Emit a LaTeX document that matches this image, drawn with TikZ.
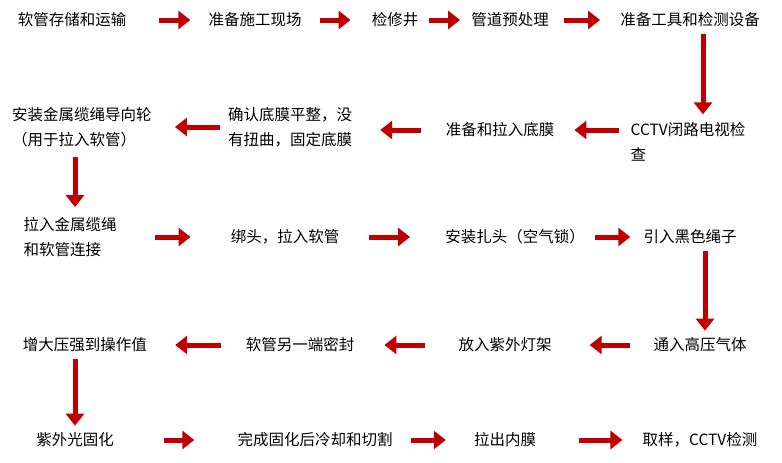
\documentclass[tikz,border=0pt]{standalone}
\usepackage{fontspec}
\setmainfont{Noto Sans CJK SC}
\usetikzlibrary{arrows.meta}
\definecolor{flowred}{RGB}{192,0,0}

\begin{document}
\begin{tikzpicture}[x=1pt,y=-1pt,
    stepbox/.style={inner sep=0pt,font=\fontsize{15.5}{25}\selectfont,align=left},
    flow/.style={draw=flowred,line width=5pt,-{Triangle[length=12pt,width=18pt]}}]
            \useasboundingbox (0,0) rectangle (782,463);
            % row 1
            \node[stepbox] (n11) at (72,20)  {软管存储和运输};
            \node[stepbox] (n12) at (255,20) {准备施工现场};
            \node[stepbox] (n13) at (395,20) {检修井};
            \node[stepbox] (n14) at (510,20) {管道预处理};
            \node[stepbox] (n15) at (690,20) {准备工具和检测设备};
            % row 2
            \node[stepbox] (n21) at (688,142) {CCTV闭路电视检\\查};
            \node[stepbox] (n22) at (500,130) {准备和拉入底膜};
            \node[stepbox] (n23) at (290,127) {确认底膜平整，没\\有扭曲，固定底膜};
            \node[stepbox] (n24) at (82,127)  {安装金属缆绳导向轮\\（用于拉入软管）};
            % row 3
            \node[stepbox] (n31) at (70,237)  {拉入金属缆绳\\和软管连接};
            \node[stepbox] (n32) at (285,237) {绑头，拉入软管};
            \node[stepbox] (n33) at (515,237) {安装扎头（空气锁）};
            \node[stepbox] (n34) at (690,237) {引入黑色绳子};
            % row 4
            \node[stepbox] (n41) at (700,345) {通入高压气体};
            \node[stepbox] (n42) at (505,345) {放入紫外灯架};
            \node[stepbox] (n43) at (300,345) {软管另一端密封};
            \node[stepbox] (n44) at (85,345)  {增大压强到操作值};
            % row 5
            \node[stepbox] (n51) at (75,440)  {紫外光固化};
            \node[stepbox] (n52) at (315,440) {完成固化后冷却和切割};
            \node[stepbox] (n53) at (505,440) {拉出内膜};
            \node[stepbox] (n54) at (700,440) {取样，CCTV检测};

            \draw[flow,shorten <=33pt,shorten >=18pt] (n11) -- (n12);
            \draw[flow,shorten <=18pt,shorten >=21pt] (n12) -- (n13);
            \draw[flow,shorten <=11pt,shorten >=11pt] (n13) -- (n14);
            \draw[flow,shorten <=15pt,shorten >=20pt] (n14) -- (n15);
            \draw[flow,shorten <=7pt,shorten >=8pt] ([xshift=13pt]n15.south) -- ([xshift=15pt]n21.north);
            \draw[flow,shorten <=11pt,shorten >=20pt] (n21.west |- n22.east) -- (n22.east);
            \draw[flow,shorten <=25pt,shorten >=28pt] (n22.west) -- (n22.west -| n23.east);
            \draw[flow,shorten <=8pt,shorten >=23pt] (n23.west) -- (n24.east);
            \draw[flow,shorten <=10pt,shorten >=10pt] ([xshift=5pt]n31.north |- n24.south) -- ([xshift=5pt]n31.north);
            \draw[flow,shorten <=38pt,shorten >=40pt] (n31) -- (n32);
            \draw[flow,shorten <=30pt,shorten >=35pt] (n32) -- (n33);
            \draw[flow,shorten <=10pt,shorten >=13pt] (n33) -- (n34);
            \draw[flow,shorten <=7pt,shorten >=7pt] ([xshift=15pt]n34.south) -- ([xshift=5pt]n41.north);
            \draw[flow,shorten <=23pt,shorten >=38pt] (n41) -- (n42);
            \draw[flow,shorten <=33pt,shorten >=30pt] (n42) -- (n43);
            \draw[flow,shorten <=25pt,shorten >=28pt] (n43) -- (n44);
            \draw[flow,shorten <=7pt,shorten >=7pt] ([xshift=-10pt]n44.south) -- (n51.north);
            \draw[flow,shorten <=50pt,shorten >=43pt] (n51) -- (n52);
            \draw[flow,shorten <=18pt,shorten >=28pt] (n52) -- (n53);
            \draw[flow,shorten <=43pt,shorten >=20pt] (n53) -- (n54);
        \end{tikzpicture}
\end{document}
